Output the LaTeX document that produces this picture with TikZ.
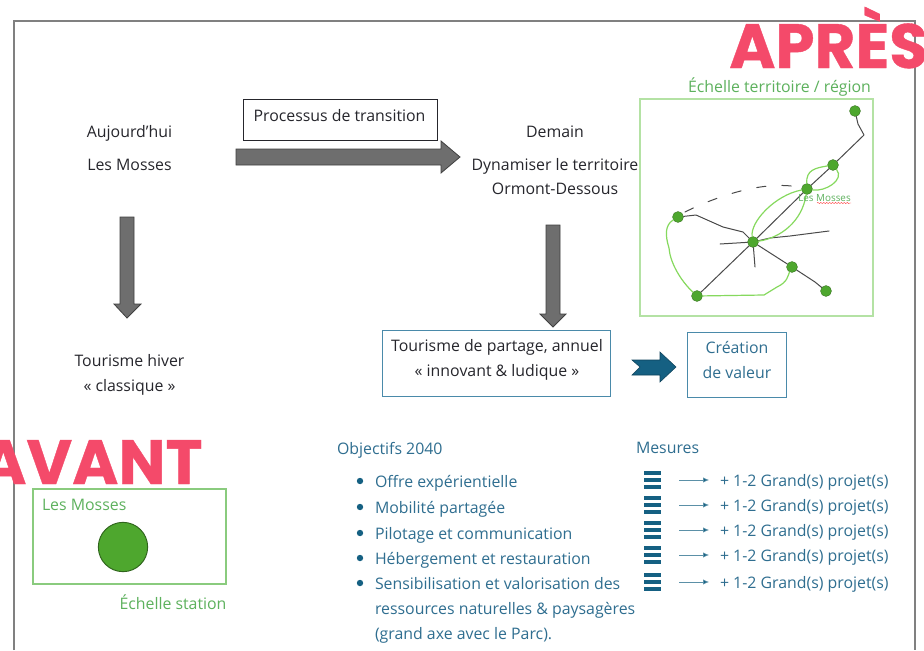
\documentclass[tikz,border=0pt]{standalone}
\usepackage{fontspec}
\setmainfont{Open Sans}
\newfontfamily\heavyfont{Poppins}[BoldFeatures={FakeBold=0.6}]
\usetikzlibrary{arrows.meta,decorations.pathmorphing}
\definecolor{framegray}{HTML}{808080}
\definecolor{arrowgray}{HTML}{6E6E6E}
\definecolor{arrowedge}{HTML}{404040}
\definecolor{inkdark}{HTML}{26262C}
\definecolor{tealtext}{HTML}{2F6E90}
\definecolor{tealdark}{HTML}{156082}
\definecolor{boxteal}{HTML}{4A8AAA}
\definecolor{greentext}{HTML}{5DB15D}
\definecolor{greennode}{HTML}{4EA72E}
\definecolor{greenline}{HTML}{86D95E}
\definecolor{greenbox}{HTML}{B4E2A4}
\definecolor{stationbox}{HTML}{8ACB7E}
\definecolor{redtitle}{HTML}{F44A6A}
\definecolor{roadgray}{HTML}{4A4A4A}
\tikzset{
  x=0.75pt,y=-0.75pt,
  base/.style={inner sep=0pt,outer sep=0pt,text height=12.5pt,text depth=2.5pt,font=\fontsize{11.9pt}{14pt}\selectfont},
  darktext/.style={base,text=inkdark,anchor=center},
  tealt/.style={base,text=tealtext,anchor=west},
  projt/.style={tealt},
  greent/.style={base,text=greentext},
  title/.style={inner sep=0pt,text=redtitle,font=\heavyfont\bfseries\fontsize{47pt}{47pt}\selectfont},
  bigarrow/.style={fill=arrowgray,draw=arrowedge,line width=0.6pt},
  tealbox/.style={draw=boxteal,line width=0.7pt},
  mapnode/.style={circle,fill=greennode,draw=greennode!70!black,line width=0.3pt,minimum size=8.2pt,inner sep=0pt},
  road/.style={draw=roadgray,line width=0.75pt,line cap=round,line join=round},
  loopline/.style={draw=greenline,line width=0.9pt,line cap=round,line join=round},
  thinarrow/.style={draw=tealdark!70,line width=0.5pt,-{Latex[length=4.5pt,width=4pt,fill=tealdark]}},
  barline/.style={draw=tealdark,line width=2.3pt},
  bulletdot/.style={circle,fill=tealdark,minimum size=4.8pt,inner sep=0pt},
}
\newcommand{\barsicon}[2]{%
  \draw[barline] (#1,#2-7) -- +(17,0);
  \draw[barline] (#1,#2) -- +(17,0);
  \draw[barline] (#1,#2+7) -- +(17,0);}
\begin{document}
\begin{tikzpicture}
\useasboundingbox (0,0) rectangle (924,650);
\fill[white] (0,0) rectangle (924,650);
% page frame
\draw[framegray,line width=1.4pt] (14,650) -- (14,21) -- (915,21) -- (915,650);
% titles
\node[title,anchor=base west] (apres) at (729,68) {APRÈS};
\node[title,anchor=base west] (avant) at (-20,484) {AVANT};
% top left
\node[darktext] (auj) at (129.5,131) {Aujourd’hui};
\node[darktext] (mosses) at (129.5,164) {Les Mosses};
\node[darktext] (hiver) at (129.5,360) {Tourisme hiver};
\node[darktext] (classique) at (129.5,385) {« classique »};
% process
\draw[draw=inkdark,line width=0.7pt] (243,99) rectangle (437,140);
\node[darktext] (proc) at (339.5,115) {Processus de transition};
\draw[bigarrow] (236,149) -- (441,149) -- (441,141) -- (460,157) -- (441,173) -- (441,165) -- (236,165) -- cycle;
\draw[bigarrow] (120,217) -- (134,217) -- (134,304) -- (141,304) -- (127,318) -- (114,304) -- (120,304) -- cycle;
\draw[bigarrow] (546,225) -- (560,225) -- (560,314) -- (566,314) -- (553,327) -- (540,314) -- (546,314) -- cycle;
% demain
\node[darktext] (demain) at (555,131) {Demain};
\node[darktext] (dyn) at (555,164) {Dynamiser le territoire};
\node[darktext] (orm) at (555,188) {Ormont-Dessous};
% tourism boxes
\draw[tealbox] (382,330) rectangle (610,396);
\node[darktext] (part) at (497,345) {Tourisme de partage, annuel};
\node[darktext] (inn) at (497,370) {« innovant \& ludique »};
\fill[tealdark,draw=tealdark!70!black,line width=0.4pt] (632,360) -- (660,360) -- (660,352) -- (676,367) -- (660,382) -- (660,375) -- (632,375) -- (640,367) -- cycle;
\draw[tealbox] (687,332) rectangle (786,397);
\node[base,text=tealtext] (crea) at (737,347) {Création};
\node[base,text=tealtext] (val) at (737,372) {de valeur};
% map
\node[greent] (ech) at (779.5,86) {Échelle territoire / région};
\draw[greenbox,line width=0.8pt] (640,99) rectangle (873,316);
\node[mapnode] (ntop) at (855,111) {};
\coordinate (nbend) at (864,135);
\node[mapnode] (nup) at (833,165) {};
\node[mapnode] (nmos) at (807,189) {};
\node[mapnode] (ncen) at (753,242) {};
\node[mapnode] (nleft) at (678,217) {};
\node[mapnode] (nbot) at (697,296) {};
\node[mapnode] (nlow) at (792,267) {};
\node[mapnode] (nend) at (826,291) {};
\coordinate (spurw) at (720,244);
\coordinate (spure) at (829,231);
\coordinate (spurs) at (755,267);
\draw[road] (ntop) -- (858,124) -- (nbend) -- (nup) -- (nmos) -- (ncen) -- (nbot);
\draw[road] (ncen) -- (spurw);
\draw[road] (ncen) -- (770,238) -- (790,236) -- (spure);
\draw[road] (ncen) -- (spurs);
\draw[road] (ncen) -- (nlow) -- (815,282) -- (nend);
\draw[road] (nleft) -- (696,215) -- (723,227) -- (743,232) -- (ncen);
\draw[road,dash pattern=on 7pt off 12pt] (685,212) .. controls (705,202) and (760,178) .. (nmos);
\draw[loopline] (nbot) .. controls (680,280) and (670,262) .. (669,248) .. controls (665,235) and (665,225) .. (nleft);
\draw[loopline] (nbot) -- (764,295) -- (777,287) .. controls (788,282) and (788,275) .. (nlow);
\draw[loopline] (ncen) .. controls (750,222) and (775,195) .. (nmos);
\draw[loopline] (ncen) .. controls (780,238) and (802,222) .. (nmos);
\draw[loopline] (nmos) .. controls (806,170) and (815,168) .. (nup);
\draw[loopline] (nmos) .. controls (825,192) and (845,180) .. (nup);
\node[inner sep=0pt,text=greentext,font=\fontsize{7.4pt}{8pt}\selectfont] (lesm) at (824.5,198) {Les Mosses};
\draw[red!80,line width=0.3pt,decorate,decoration={snake,amplitude=0.4pt,segment length=2.2pt}] (817,203) -- (851,203);
% objectifs
\node[tealt] (obj) at (337,448) {Objectifs 2040};
\foreach \yy/\tt/\nm in {481/Offre expérientielle/oa,507/Mobilité partagée/ob,533/Pilotage et communication/oc,558/Hébergement et restauration/od,583/Sensibilisation et valorisation des/oe}{
  \node[bulletdot] at (360,\yy) {};
  \node[tealt] (\nm) at (375,\yy) {\tt};
}
\node[tealt] (of) at (375,608) {ressources naturelles \& paysagères};
\node[tealt] (og) at (375,633) {(grand axe avec le Parc).};
% mesures
\node[tealt] (mes) at (636,447) {Mesures};
\foreach \yy/\nm in {480/ma,505/mb,530/mc,555/md,582/me}{
  \barsicon{644}{\yy}
  \coordinate (\nm s) at (679,\yy);
  \node[projt] (\nm) at (720,\yy) {+ 1-2 Grand(s) projet(s)};
  \draw[thinarrow] (\nm s) -- ([xshift=-8.25pt]\nm.west);
}
% station
\draw[stationbox,line width=0.8pt] (33,489) rectangle (226,584);
\node[greent,anchor=west] (st) at (42,504) {Les Mosses};
\node[circle,fill=greennode,draw=greennode!60!black,line width=0.7pt,minimum size=37pt,inner sep=0pt] (stc) at (123,547) {};
\node[greent] (ech2) at (173,603) {Échelle station};
\end{tikzpicture}
\end{document}
